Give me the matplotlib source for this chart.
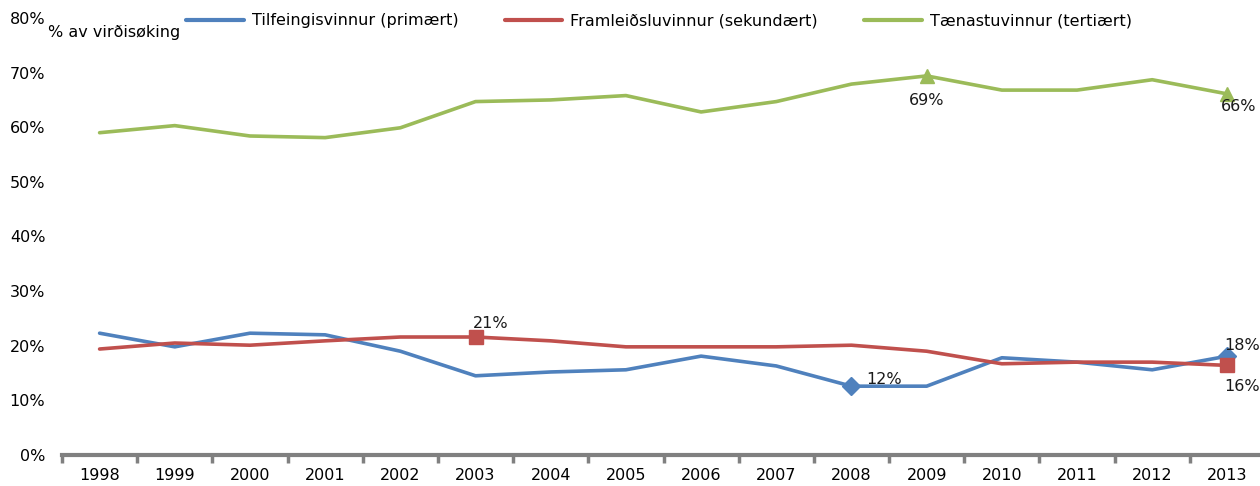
import numpy as np
import matplotlib
matplotlib.use('Agg')
import matplotlib.pyplot as plt
from matplotlib.ticker import FixedLocator

years = [str(y) for y in range(1998, 2014)]

primary = [22.3, 19.8, 22.3, 22.0, 19.0, 14.5, 15.2, 15.6, 18.1, 16.3,
           12.6, 12.6, 17.8, 17.0, 15.6, 18.1]
secondary = [19.4, 20.5, 20.1, 20.9, 21.6, 21.6, 20.9, 19.8, 19.8, 19.8,
             20.1, 19.0, 16.7, 17.0, 17.0, 16.4]
tertiary = [59.0, 60.3, 58.4, 58.1, 59.9, 64.7, 65.0, 65.8, 62.8, 64.7,
            67.9, 69.4, 66.8, 66.8, 68.7, 66.1]

series_names = ['Tilfeingisvinnur (primært)',
                'Framleiðsluvinnur (sekundært)',
                'Tænastuvinnur (tertiært)']
colors = ['#4F81BD', '#C0504D', '#9BBB59']
markers = ['D', 's', '^']

# marked points: (index, label text, dx, dy, ha, va) offsets in points
marked = [
    [(10, '12%', 11, 5, 'left', 'center'), (15, '18%', -2, 2, 'left', 'bottom')],
    [(5, '21%', -2, 4, 'left', 'bottom'), (15, '16%', -2, -10, 'left', 'top')],
    [(11, '69%', 0, -12, 'center', 'top'), (15, '66%', 8, -4, 'center', 'top')],
]

plt.rcParams['font.family'] = ['DejaVu Sans']
plt.rcParams['font.size'] = 11.5

fig = plt.figure(figsize=(12.6, 4.86), dpi=100)
ax = fig.add_axes([62 / 1260, 31 / 486, 1203 / 1260, 437 / 486])

x = np.arange(len(years))
handles = []
for vals, name, col, mk, marks in zip([primary, secondary, tertiary],
                                      series_names, colors, markers, marked):
    h, = ax.plot(x, vals, color=col, lw=2.6, label=name, solid_capstyle='round')
    handles.append(h)
    for idx, lab, dx, dy, ha, va in marks:
        ax.plot(x[idx], vals[idx], marker=mk, color=col,
                ms=9 if mk == 'D' else 10.5, linestyle='none', clip_on=False)
        ax.annotate(lab, (x[idx], vals[idx]), xytext=(dx, dy),
                    textcoords='offset points', ha=ha, va=va,
                    color='#1a1a1a', annotation_clip=False)

ax.set_xlim(-0.5, 15.5)
ax.set_ylim(0, 80)
ax.set_yticks(range(0, 81, 10))
ax.set_yticklabels([f'{v}%' for v in range(0, 81, 10)])
ax.set_xticks(x)
ax.set_xticklabels(years)
ax.xaxis.set_minor_locator(FixedLocator(np.arange(-0.5, 16, 1)))
ax.tick_params(axis='x', which='major', length=0, pad=9)
ax.tick_params(axis='x', which='minor', length=6, width=2.5, color='#808080',
               direction='out')
ax.tick_params(axis='y', length=0, pad=12)

for s in ['top', 'right', 'left']:
    ax.spines[s].set_visible(False)
ax.spines['bottom'].set_color('#808080')
ax.spines['bottom'].set_linewidth(3)

fig.text(48 / 1260, 1 - 32 / 486, '% av virðisøking', ha='left', va='center')

leg = fig.legend(handles=handles, loc='center left', ncol=3, frameon=False,
                 bbox_to_anchor=(180 / 1260, 1 - 21 / 486), handlelength=3.6,
                 columnspacing=2.9, handletextpad=0.5, borderaxespad=0)
for lh in leg.get_lines():
    lh.set_linewidth(3)

fig.savefig('out.png', dpi=100)
